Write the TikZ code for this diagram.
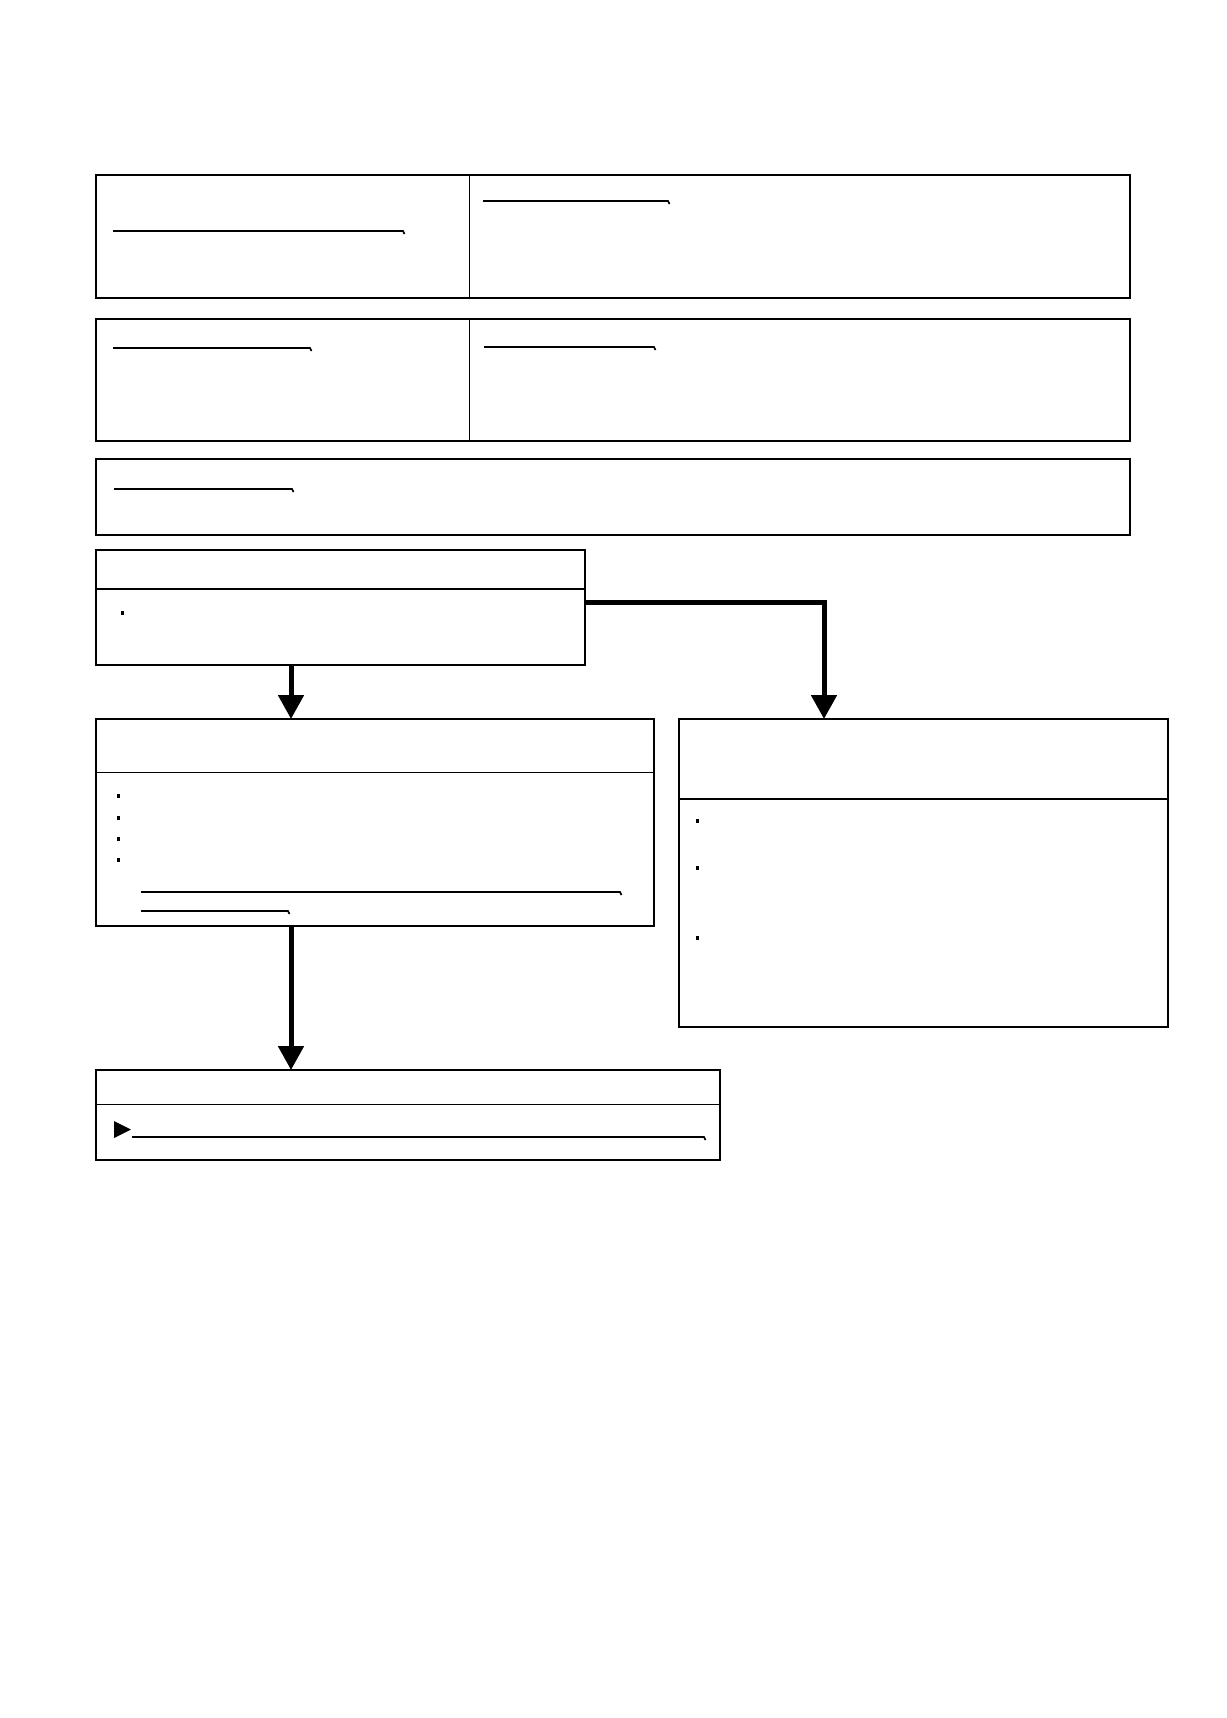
\documentclass[tikz,border=0pt]{standalone}
\usepackage{tikz}
\usetikzlibrary{calc,arrows.meta}

\tikzset{
    box/.style={draw, line width=1.5pt, inner sep=0pt, outer sep=0pt, anchor=north west},
    heavy/.style={line width=2.6pt},
    flow/.style={line width=5pt, -{Triangle[width=25pt,length=24pt]}},
    uline/.style={line width=1.6pt},
}

\begin{document}
\begin{tikzpicture}[x=1pt, y=-1pt]
        \useasboundingbox (0,0) rectangle (1226,1718);
        % top boxes
        \node[box, minimum width=1034pt, minimum height=123pt] (top) at (96,175) {};
        \node[box, minimum width=1034pt, minimum height=122pt] (mid) at (96,319) {};
        \node[box, minimum width=1034pt, minimum height=76pt] (note) at (96,459) {};
        \draw (469,175) -- (469,298);
        \draw (469,319) -- (469,441);
        \draw[heavy] (top.north west) -- (top.north east);
        \draw[heavy] (mid.south west) -- (mid.south east);
        \draw[heavy] (note.north west) -- (note.north east);
        \draw[heavy] (note.south west) -- (note.south east);
        \draw[uline] (113,231) -- (403,231) -- ++(1.5,3);
        \draw[uline] (483,201) -- (668,201) -- ++(1.5,3);
        \draw[uline] (113,348) -- (310,348) -- ++(1.5,3);
        \draw[uline] (484,347) -- (654,347) -- ++(1.5,3);
        \draw[uline] (114,489) -- (292,489) -- ++(1.5,3);

        % flow boxes
        \node[box, minimum width=489pt, minimum height=115pt] (start) at (96,550) {};
        \node[box, minimum width=558pt, minimum height=207pt] (left) at (96,719) {};
        \node[box, minimum width=489pt, minimum height=308pt] (right) at (679,719) {};
        \node[box, minimum width=624pt, minimum height=90pt] (end) at (96,1070) {};
        \draw[heavy] (start.west |- 0,589) -- (start.east |- 0,589);
        \draw (left.west |- 0,772) -- (left.east |- 0,772);
        \draw[heavy] (right.west |- 0,799) -- (right.east |- 0,799);
        \draw (end.west |- 0,1104) -- (end.east |- 0,1104);

        % bullets
        \fill (121,611) rectangle ++(2.5,3.5);
        \foreach \y in {794,816,837,858}
            \fill (117,\y) rectangle ++(2.5,3.5);
        \foreach \y in {819,866,936}
            \fill (696,\y) rectangle ++(3,3.5);
        \draw[uline] (141,892) -- (620,892) -- ++(1.5,3);
        \draw[uline] (141,911) -- (288,911) -- ++(1.5,3);
        \fill (114,1121) -- (131,1129.5) -- (114,1138) -- cycle;
        \draw[uline] (132,1137) -- (704,1137) -- ++(1.5,3);

        % connectors
        \draw[flow] ($(start.south west)+(195,0)$) -- ($(left.north west)+(195,0)$);
        \draw[flow] ($(left.south west)+(195,0)$) -- ($(end.north west)+(195,0)$);
        \draw[flow] (start.east |- 0,602) -| ($(right.north west)+(145,0)$);
    \end{tikzpicture}
\end{document}
